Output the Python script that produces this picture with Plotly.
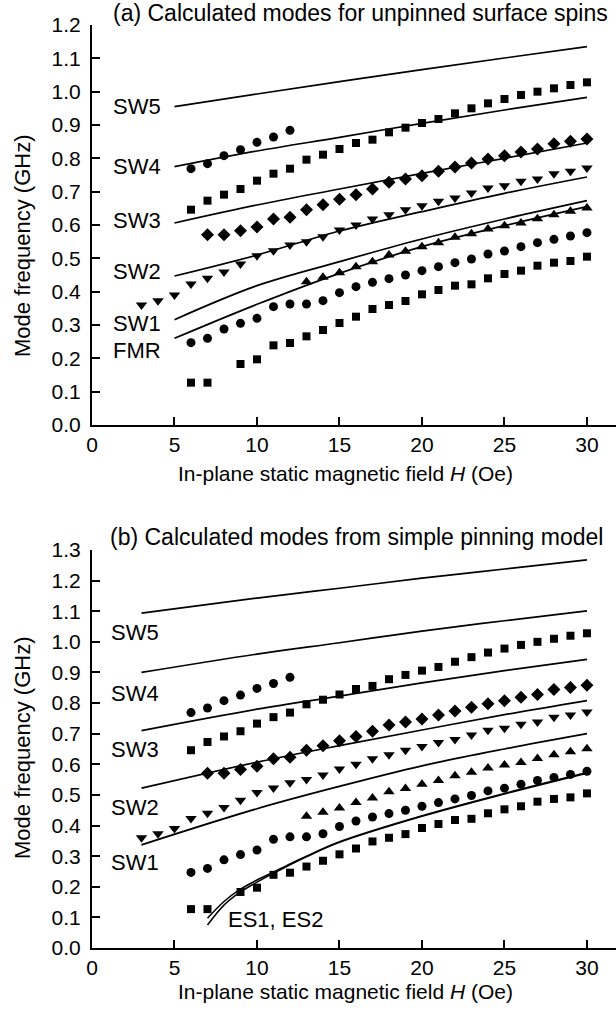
import plotly.graph_objects as go

# ---------------- data ----------------
H_fmr = [6, 7, 9, 10, 11, 12, 13, 14, 15, 16, 17, 18, 19, 20, 21, 22, 23, 24, 25, 26, 27, 28, 29, 30]
f_fmr = [0.127, 0.127, 0.183, 0.197, 0.239, 0.246, 0.266, 0.285, 0.306, 0.325, 0.348, 0.36, 0.372,
         0.392, 0.405, 0.418, 0.422, 0.44, 0.453, 0.463, 0.478, 0.487, 0.492, 0.505]

H_c1 = list(range(6, 31))
f_c1 = [0.247, 0.26, 0.288, 0.305, 0.32, 0.355, 0.363, 0.363, 0.373, 0.397, 0.415, 0.428, 0.439,
        0.45, 0.463, 0.475, 0.487, 0.498, 0.513, 0.522, 0.535, 0.547, 0.557, 0.567, 0.577]

H_tu = list(range(13, 31))
f_tu = [0.43, 0.443, 0.457, 0.475, 0.49, 0.51, 0.521, 0.535, 0.547, 0.563, 0.574, 0.588, 0.598,
        0.606, 0.619, 0.631, 0.641, 0.651]

H_td = list(range(3, 31))
f_td = [0.36, 0.373, 0.39, 0.423, 0.44, 0.459, 0.483, 0.508, 0.523, 0.54, 0.55, 0.565, 0.585, 0.6,
        0.618, 0.631, 0.646, 0.658, 0.671, 0.681, 0.696, 0.711, 0.718, 0.731, 0.738, 0.754, 0.761, 0.771]

H_di = list(range(7, 31))
f_di = [0.571, 0.571, 0.583, 0.594, 0.618, 0.623, 0.646, 0.661, 0.677, 0.691, 0.708, 0.728, 0.738,
        0.748, 0.761, 0.774, 0.786, 0.798, 0.808, 0.819, 0.828, 0.844, 0.851, 0.858]

H_s2 = list(range(6, 31))
f_s2 = [0.646, 0.673, 0.691, 0.708, 0.733, 0.754, 0.769, 0.796, 0.811, 0.828, 0.846, 0.856, 0.878,
        0.892, 0.906, 0.918, 0.935, 0.95, 0.965, 0.978, 0.99, 1.0, 1.01, 1.02, 1.028]

H_c2 = [6, 7, 8, 9, 10, 11, 12]
f_c2 = [0.769, 0.784, 0.808, 0.826, 0.848, 0.864, 0.884]

# calculated modes, panel (a)
H_a = [5, 10, 15, 20, 25, 30]
a_SW5 = [0.955, 0.993, 1.03, 1.066, 1.101, 1.135]
a_SW4 = [0.775, 0.822, 0.863, 0.905, 0.945, 0.983]
a_SW3 = [0.606, 0.66, 0.708, 0.755, 0.80, 0.846]
a_SW2 = [0.447, 0.51, 0.582, 0.64, 0.695, 0.744]
a_SW1 = [0.316, 0.418, 0.49, 0.558, 0.618, 0.673]
a_FMR = [0.26, 0.362, 0.455, 0.535, 0.598, 0.655]

# calculated modes, panel (b)
H_b = [3, 10, 15, 20, 25, 30]
b_SW5 = [1.094, 1.143, 1.175, 1.208, 1.238, 1.268]
b_SW4 = [0.90, 0.96, 0.997, 1.035, 1.069, 1.101]
b_SW3 = [0.71, 0.78, 0.823, 0.866, 0.906, 0.943]
b_SW2 = [0.522, 0.607, 0.661, 0.712, 0.762, 0.808]
b_SW1 = [0.337, 0.455, 0.528, 0.595, 0.65, 0.70]

H_es = [7, 8, 9, 10, 11, 12, 13, 15, 20, 25, 30]
b_ES1 = [0.075, 0.14, 0.183, 0.215, 0.244, 0.272, 0.298, 0.345, 0.43, 0.503, 0.571]
b_ES2 = [0.097, 0.152, 0.192, 0.222, 0.248, 0.275, 0.300, 0.347, 0.432, 0.505, 0.573]

x_ticks = [0, 5, 10, 15, 20, 25, 30]

# ---------------- figure ----------------
FONT = "Liberation Sans, Arial, sans-serif"
fig = go.Figure()

markers = [
    (H_fmr, f_fmr, "square", 8),
    (H_c1, f_c1, "circle", 9),
    (H_tu, f_tu, "triangle-up", 10),
    (H_td, f_td, "triangle-down", 10),
    (H_di, f_di, "diamond", 10),
    (H_s2, f_s2, "square", 8),
    (H_c2, f_c2, "circle", 9),
]

for xa, ya in (("x", "y"), ("x2", "y2")):
    for hx, fy, sym, sz in markers:
        fig.add_trace(go.Scatter(x=hx, y=fy, mode="markers", xaxis=xa, yaxis=ya,
                                 marker=dict(symbol=sym, size=sz, color="black", line=dict(width=0)),
                                 showlegend=False, hoverinfo="skip"))

for curve in (a_SW5, a_SW4, a_SW3, a_SW2, a_SW1, a_FMR):
    fig.add_trace(go.Scatter(x=H_a, y=curve, mode="lines", xaxis="x", yaxis="y",
                             line=dict(color="black", width=1.7, shape="spline"),
                             showlegend=False, hoverinfo="skip"))

for curve in (b_SW5, b_SW4, b_SW3, b_SW2, b_SW1):
    fig.add_trace(go.Scatter(x=H_b, y=curve, mode="lines", xaxis="x2", yaxis="y2",
                             line=dict(color="black", width=1.7, shape="spline"),
                             showlegend=False, hoverinfo="skip"))

for curve in (b_ES1, b_ES2):
    fig.add_trace(go.Scatter(x=H_es, y=curve, mode="lines", xaxis="x2", yaxis="y2",
                             line=dict(color="black", width=1.5, shape="spline"),
                             showlegend=False, hoverinfo="skip"))

L_PX, R_PX, TOP_PX, BOT_PX, W_PX, H_PX = 92, 616, 25, 948, 616, 1010
plot_w = R_PX - L_PX
plot_h = BOT_PX - TOP_PX


def px_x(px):
    return (px - L_PX) / plot_w


def px_y(py):
    return (BOT_PX - py) / plot_h


axis_common = dict(showline=True, linecolor="black", linewidth=2, ticks="inside", ticklen=8,
                   tickwidth=1.5, tickcolor="black", showgrid=False, zeroline=False,
                   tickfont=dict(family=FONT, size=21, color="black"))

xr = [0, 31.76]
fig.update_layout(
    width=W_PX, height=H_PX,
    margin=dict(l=L_PX, r=W_PX - R_PX, t=TOP_PX, b=H_PX - BOT_PX),
    paper_bgcolor="white", plot_bgcolor="white",
    showlegend=False,
    xaxis=dict(range=xr, tickvals=x_ticks, anchor="y", domain=[0, 1], **axis_common),
    yaxis=dict(range=[0, 1.2], dtick=0.1, tickformat=".1f", anchor="x", ticklabelstandoff=5,
               domain=[px_y(425), 1.0], **axis_common),
    xaxis2=dict(range=xr, tickvals=x_ticks, anchor="y2", domain=[0, 1], **axis_common),
    yaxis2=dict(range=[0, 1.3], dtick=0.1, tickformat=".1f", anchor="x2", ticklabelstandoff=5,
                domain=[0, px_y(550)], **axis_common),
)

ann_font = dict(family=FONT, size=22, color="black")
xt_font = dict(family=FONT, size=21, color="black")
title_font = dict(family=FONT, size=23, color="black")
anns = []


def add(text, px, py, xanchor="left", font=ann_font, angle=0):
    anns.append(dict(x=px_x(px), y=px_y(py), xref="paper", yref="paper", text=text,
                     xanchor=xanchor, yanchor="middle", showarrow=False, font=font,
                     textangle=angle))


# panel titles
add("(a) Calculated modes for unpinned surface spins", 111, 13, font=title_font)
add("(b) Calculated modes from simple pinning model", 108, 537, font=title_font)
# axis titles
add("In-plane static magnetic field <i>H</i> (Oe)", 345, 474, xanchor="center", font=xt_font)
add("In-plane static magnetic field <i>H</i> (Oe)", 345, 991, xanchor="center", font=xt_font)
add("Mode frequency (GHz)", 22, 246, xanchor="center", angle=-90)
add("Mode frequency (GHz)", 22, 748, xanchor="center", angle=-90)
# mode labels panel (a)
for txt, py in (("SW5", 106), ("SW4", 166), ("SW3", 221), ("SW2", 271), ("SW1", 323), ("FMR", 350)):
    add(txt, 163, py, xanchor="right")
# mode labels panel (b)
for txt, py in (("SW5", 632), ("SW4", 693), ("SW3", 749), ("SW2", 807), ("SW1", 862)):
    add(txt, 161, py, xanchor="right")
add("ES1, ES2", 226, 919)

fig.update_layout(annotations=anns)

fig.write_html("out.html")
